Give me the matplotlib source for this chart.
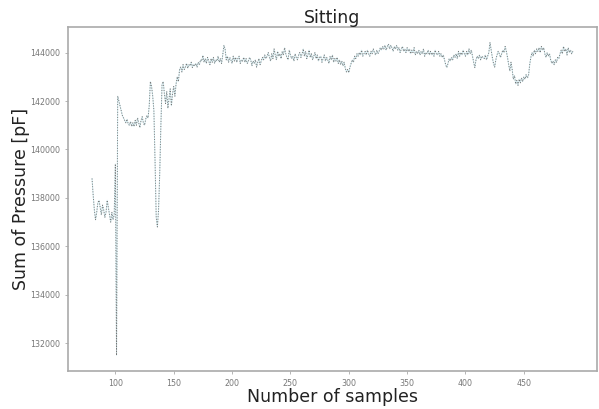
import matplotlib.pyplot as plt
import numpy as np

# sample index range 80..492, pressure sum values
samples = np.arange(80, 493)
pressure = [
    138800, 138100, 137500, 137100, 137400, 137800, 137900, 137600, 137300, 137700,
    137500, 137200, 137400, 137900, 137600, 137300, 137000, 137400, 137100, 137300,
    139400, 131500, 142200, 142000, 141800, 141600, 141400, 141300, 141200, 141100,
    141250, 141050, 141000, 141150, 140950, 141100, 140950, 141200, 141000, 141300,
    141100, 140900, 141200, 141350, 141100, 141000, 141250, 141400, 141300, 141800,
    142800, 142600, 142200, 141600, 139500, 137200, 136800, 137500, 139000, 141000,
    142700, 142800, 142300, 141900, 142400, 141700, 142100, 142500, 141800, 142300,
    142600, 142200, 142700, 143000, 142800, 143300, 143400, 143200, 143500, 143300,
    143400, 143550, 143350, 143500, 143450, 143600, 143380, 143520, 143450, 143550,
    143400, 143600, 143500, 143700, 143650, 143880, 143600, 143750, 143550, 143800,
    143650, 143500, 143750, 143600, 143800, 143550, 143700, 143650, 143850, 143600,
    143750, 143550, 143900, 144300, 144150, 143700, 143850, 143600, 143800, 143700,
    143550, 143850, 143650, 143800, 143600, 143750, 143850, 143550, 143700, 143650,
    143800, 143600, 143750, 143550, 143650, 143800, 143700, 143450, 143650, 143550,
    143700, 143400, 143600, 143750, 143500, 143650, 143800, 143700, 143900, 143750,
    143850, 144000, 143800, 143650, 143950, 143750, 144150, 143900, 143700, 144050,
    143850, 143950, 143750, 144050, 143900, 144200, 143950, 143800, 143700, 144100,
    143900, 143750, 143850, 143650, 143950, 143800, 143700, 143900, 144000, 143800,
    143950, 144150, 143850, 144050, 143750, 143900, 144100, 143800, 143950, 143700,
    143850, 144000, 143750, 143900, 143650, 143800, 143850, 143600, 143750, 143900,
    143650, 143800, 143700, 143550, 143850, 143700, 143900, 143600, 143750, 143650,
    143800, 143550, 143700, 143500, 143650, 143450, 143600, 143350, 143200, 143300,
    143170, 143400, 143550, 143700, 143600, 143850, 143750, 143950, 143850, 144000,
    143900, 144100, 143850, 143950, 144050, 143900, 144100, 143950, 143850, 144050,
    143950, 144150, 144000, 143900, 144100, 143950, 144050, 144200, 144100, 144250,
    144150, 144300, 144100, 144250, 144350, 144150, 144300, 144200, 144050, 144250,
    144150, 144300, 144100, 144200, 144000, 144150, 144250, 144050, 144150, 144000,
    144200, 144050, 144150, 143950, 144100, 144000, 144200, 143900, 144050, 143950,
    144100, 143900, 144050, 143950, 144150, 143850, 144000, 143950, 144100, 143900,
    144050, 143900, 144000, 143850, 144100, 143950, 143900, 144050, 143850, 143950,
    143800, 143900, 143700, 143500, 143380, 143550, 143750, 143650, 143800, 143700,
    143900, 143800, 143950, 143750, 144050, 143850, 144000, 143900, 144100, 143950,
    143850, 144050, 143900, 144150, 143950, 144100, 143850, 143600, 143380, 143700,
    143850, 143750, 143900, 143700, 143850, 143800, 143750, 143900, 143700, 143850,
    144000, 144410, 144100, 143800, 143550, 143400, 143700, 143900, 144050, 143950,
    143800, 143950, 144100, 144000, 144250, 144050, 143800, 143500, 143240, 143600,
    143300, 142900, 143050, 142700, 142850, 142650, 142900, 142750, 142950, 142800,
    143000, 142900, 143100, 142950, 143050, 143500, 143800, 144000, 143850, 144100,
    143950, 144150, 144050, 144200, 144000, 144250, 144100, 144200, 143950, 143800,
    144000, 143850, 143950, 143700, 143550, 143650, 143500, 143700, 143600, 143800,
    143750, 143950, 144100, 143950, 144250, 144050, 144150, 143900, 144200, 144000,
    144100, 143950, 144050,
]

fig = plt.figure(figsize=(5.99, 4.09), dpi=100)
ax = fig.add_axes([0.1135, 0.093, 0.883, 0.841])

ax.plot(samples, pressure, color='#9fd6e2', linewidth=0.7, alpha=0.45)
ax.plot(samples, pressure, color='#777777', linewidth=0.7, linestyle=':')

ax.set_title('Sitting', fontsize=12.5, color='#222222', pad=3)
ax.set_xlabel('Number of samples', fontsize=12.5, color='#222222', labelpad=0)
ax.set_ylabel('Sum of Pressure [pF]', fontsize=12.5, color='#222222', labelpad=0)

ax.set_xticks([100, 150, 200, 250, 300, 350, 400, 450])
ax.set_yticks([132000, 134000, 136000, 138000, 140000, 142000, 144000])
ax.tick_params(labelsize=5.7, labelcolor='#777777', color='#aaaaaa', length=2.5, width=0.6)
for s in ax.spines.values():
    s.set_color('#aaaaaa')
    s.set_linewidth(1.2)

fig.savefig('out.png', dpi=100)
